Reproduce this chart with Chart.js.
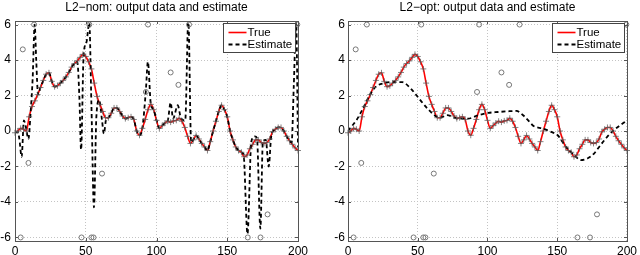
<!DOCTYPE html>
<html><head><meta charset="utf-8">
<script src="https://cdn.jsdelivr.net/npm/chart.js@4.4.1/dist/chart.umd.min.js"></script>
<style>
html,body{margin:0;padding:0;background:#fff;}
#wrap{position:relative;width:640px;height:255px;overflow:hidden;}
.c{position:absolute;top:0;width:320px;height:255px;}
canvas{display:block;}
</style></head><body>
<div id="wrap">
<div class="c" style="left:0"><canvas id="c1" width="320" height="255"></canvas></div>
<div class="c" style="left:320px"><canvas id="c2" width="320" height="255"></canvas></div>
</div>
<script>
// ---------- data ----------
const titles = ["L2\u2212nom: output data and estimate", "L2\u2212opt: output data and estimate"];
const legendLabels = ["True", "Estimate"];
const xTicks = [0, 50, 100, 150, 200];
const yTicks = [-6, -4, -2, 0, 2, 4, 6];
const yTickLabels = ["-6", "-4", "-2", "0", "2", "4", "6"];

const trueX = [0,2,4,6,8,10,12,14,16,18,20,22,24,26,28,30,32,34,36,38,40,42,44,46,48,50,52,54,56,58,60,62,64,66,68,70,72,74,76,78,80,82,84,86,88,90,92,94,96,98,100,102,104,106,108,110,112,114,116,118,120,122,124,126,128,130,132,134,136,138,140,142,144,146,148,150,152,154,156,158,160,162,164,166,168,170,172,174,176,178,180,182,184,186,188,190,192,194,196,198,200];
const trueY = [-0.1,0.0,0.15,0.1,0.0,0.8,1.38,1.7,2.05,2.45,
  2.85,3.2,3.28,2.8,2.5,2.55,2.7,2.85,3.05,3.3,
  3.6,3.8,3.95,4.15,4.32,4.2,3.9,3.5,2.7,1.95,
  1.5,1.1,0.75,0.75,1.0,1.3,1.3,1.1,0.85,0.7,
  0.75,0.8,0.65,0.0,-0.24,0.15,0.65,1.2,1.5,1.2,
  0.6,0.15,0.3,0.45,0.55,0.5,0.57,0.6,0.72,0.55,
  0.2,-0.3,-0.7,-0.5,-0.25,-0.45,-0.7,-0.9,-1.1,-0.6,
  0.0,0.55,1.1,1.45,1.2,0.8,0.0,-0.5,-0.9,-1.1,
  -1.2,-1.45,-1.35,-1.0,-0.75,-0.5,-0.5,-0.65,-0.7,-0.65,
  -0.45,-0.05,0.1,0.2,0.2,0.0,-0.3,-0.55,-0.75,-0.95,
  -1.1];

const nomX = [0,2,3,4.7,6.3,7.5,9.5,11,12.5,13.9,15,16.3,18,20,22,24,26,28,30,32,34,36,38,40,42,44,45.5,46.7,48.5,50.5,52.5,54,55.8,57.5,59.5,61.5,62.8,64.5,66,68,70,72,74,76,78,80,82,84,86,88,90,92.5,93.9,96,98,100,102,104,106,108,110,111.7,115,117.3,120.3,122.5,124.5,126,128,130,132,134,136,138,140,142,144,146,148,150,152,154,156,158,160,161.5,164.3,167,169.5,171,173.4,175.2,177.2,179.3,181,183,186,188,190,192,194,195.5,197,198.7,200];
const nomY = [-0.1,-0.05,-0.4,-1.45,0.6,0.3,-0.45,1.0,3.0,6.0,4.0,2.05,2.45,2.85,3.2,3.28,2.8,2.5,2.55,2.7,2.85,3.05,3.3,3.6,3.8,3.9,1.9,-1.05,4.3,5.0,6.1,1.5,-4.3,0.8,1.75,0.6,-0.15,0.7,0.75,1.0,1.3,1.3,1.1,0.85,0.7,0.75,0.8,0.65,0.0,-0.24,0.15,2.3,3.9,1.5,1.2,0.6,0.15,0.3,0.45,0.6,1.6,0.7,1.45,0.72,0.6,6.3,-0.65,-0.5,-0.25,-0.45,-0.7,-0.9,-1.1,-0.6,0.0,0.55,1.1,1.45,1.2,0.8,0.0,-0.5,-0.9,-1.1,-1.2,-1.3,-5.8,-0.6,-0.3,-0.4,-5.5,-0.6,-0.5,-2.0,-0.35,0.05,0.2,0.2,0.0,-0.3,-0.55,-0.65,2.5,6.1,-0.9];

const optX = [0,3,6,10.7,15.4,20,26,33,39,45,51,57,63,66,71,79,86,93.5,100.5,107.7,114.8,120.7,125.5,130.2,133,139.7,145.6,150.3,156.2,162.2,166.8,171.6,176.4,181,185.8,190.6,195.2,200];
const optY = [0.0,0.3,0.6,1.26,2.0,2.5,2.7,2.76,2.75,2.39,1.82,1.26,0.83,0.74,0.89,0.7,0.7,0.89,1.02,1.07,1.11,1.13,0.89,0.51,0.28,0.14,-0.05,-0.24,-0.89,-1.36,-1.64,-1.55,-1.27,-0.8,-0.33,0.05,0.33,0.6];

const outX = [4,5.5,9.5,13.5,47,52.5,54,55.5,61.5,92.5,94,110,115.5,123,164.5,173.5,178.5,199.5];
const outY = [-6,4.6,-1.8,6,-6,6,-6,-6,-2.4,2.2,6,3.3,2.6,6,-6,-6,-4.7,6];

// ---------- chart ----------
const FONT = "'Liberation Sans', Arial, Helvetica, sans-serif";
Chart.defaults.font.family = FONT;
const pts = (xs, ys) => xs.map((x, i) => ({x: x, y: ys[i]}));

function decor(title) {
  return {
    id: 'decor',
    afterDraw(chart) {
      const ctx = chart.ctx, a = chart.chartArea;
      const xs = chart.scales.x, ys = chart.scales.y;
      ctx.save();
      // title
      ctx.fillStyle = '#000';
      ctx.font = '12px ' + FONT;
      ctx.textAlign = 'center';
      ctx.textBaseline = 'middle';
      ctx.fillText(title, (a.left + a.right) / 2, 8);
      // frame
      ctx.strokeStyle = '#555';
      ctx.lineWidth = 1;
      ctx.strokeRect(Math.round(a.left) + 0.5, Math.round(a.top) + 0.5, Math.round(a.right - a.left), Math.round(a.bottom - a.top));
      // inward ticks
      ctx.beginPath();
      xTicks.forEach(v => {
        const p = Math.round(xs.getPixelForValue(v)) + 0.5;
        ctx.moveTo(p, a.bottom); ctx.lineTo(p, a.bottom - 3);
        ctx.moveTo(p, a.top); ctx.lineTo(p, a.top + 3);
      });
      yTicks.forEach(v => {
        const p = Math.round(ys.getPixelForValue(v)) + 0.5;
        ctx.moveTo(a.left, p); ctx.lineTo(a.left + 3, p);
        ctx.moveTo(a.right, p); ctx.lineTo(a.right - 3, p);
      });
      ctx.stroke();
      // legend
      const bw = 72, bh = 29;
      const bx = Math.round(a.right - 75) + 0.5, by = Math.round(a.top + 2) + 0.5;
      ctx.fillStyle = '#fff';
      ctx.fillRect(bx, by, bw, bh);
      ctx.strokeStyle = '#444';
      ctx.strokeRect(bx, by, bw, bh);
      const rows = [by + 9, by + 21];
      ctx.lineWidth = 1.6;
      ctx.strokeStyle = '#ff0000';
      ctx.setLineDash([]);
      ctx.beginPath(); ctx.moveTo(bx + 5, rows[0]); ctx.lineTo(bx + 23, rows[0]); ctx.stroke();
      ctx.strokeStyle = '#000';
      ctx.lineWidth = 1.8;
      ctx.setLineDash([4, 3]);
      ctx.beginPath(); ctx.moveTo(bx + 5, rows[1]); ctx.lineTo(bx + 23, rows[1]); ctx.stroke();
      ctx.setLineDash([]);
      ctx.fillStyle = '#000';
      ctx.font = '11.5px ' + FONT;
      ctx.textAlign = 'left';
      ctx.fillText(legendLabels[0], bx + 24, rows[0]);
      ctx.fillText(legendLabels[1], bx + 24, rows[1]);
      ctx.restore();
    }
  };
}

function makeChart(id, title, estX, estY, yWidth, rightPad, labelPad) {
  const ctx = document.getElementById(id).getContext('2d');
  return new Chart(ctx, {
    type: 'scatter',
    data: {
      datasets: [
        { label: legendLabels[0], data: pts(trueX, trueY), showLine: true, borderColor: '#ff0000',
          borderWidth: 1.6, pointRadius: 0, cubicInterpolationMode: 'monotone', order: 4 },
        { label: legendLabels[1], data: pts(estX, estY), showLine: true, borderColor: '#000',
          borderWidth: 1.8, borderDash: [4, 3], pointRadius: 0, cubicInterpolationMode: 'monotone', order: 3 },
        { label: 'data', data: pts(trueX, trueY), showLine: false, pointStyle: 'cross', pointRadius: 3,
          borderColor: 'rgba(90,90,90,0.75)', borderWidth: 1, backgroundColor: 'rgba(0,0,0,0)', order: 2, clip: false },
        { label: 'outliers', data: pts(outX, outY), showLine: false, pointStyle: 'circle', pointRadius: 2.5,
          borderColor: '#777', borderWidth: 1, backgroundColor: 'rgba(0,0,0,0)', order: 1, clip: false }
      ]
    },
    options: {
      responsive: false,
      animation: false,
      devicePixelRatio: 1,
      layout: { padding: { top: 21, right: rightPad, left: 0, bottom: 0 } },
      plugins: { legend: { display: false }, tooltip: { enabled: false }, title: { display: false } },
      scales: {
        x: {
          type: 'linear', min: 0, max: 200,
          afterBuildTicks: s => { s.ticks = xTicks.map(v => ({ value: v })); },
          afterFit: s => { s.height = 14; },
          grid: { color: '#c4c4c4', lineWidth: 1, drawTicks: false },
          border: { display: false, dash: [1, 2] },
          ticks: { color: '#000', font: { size: 12, family: FONT }, padding: 3, maxRotation: 0, autoSkip: false }
        },
        y: {
          type: 'linear', min: -6.2, max: 6.2,
          afterBuildTicks: s => { s.ticks = yTicks.map(v => ({ value: v })); },
          afterFit: s => { s.width = yWidth; },
          grid: { color: '#c4c4c4', lineWidth: 1, drawTicks: false },
          border: { display: false, dash: [1, 2] },
          ticks: { color: '#000', font: { size: 12, family: FONT }, padding: labelPad,
            callback: (v) => yTickLabels[yTicks.indexOf(v)] }
        }
      }
    },
    plugins: [decor(title)]
  });
}

makeChart('c1', titles[0], nomX, nomY, 15, 22, 4);
makeChart('c2', titles[1], optX, optY, 28, 10, 3);
</script>
</body></html>
